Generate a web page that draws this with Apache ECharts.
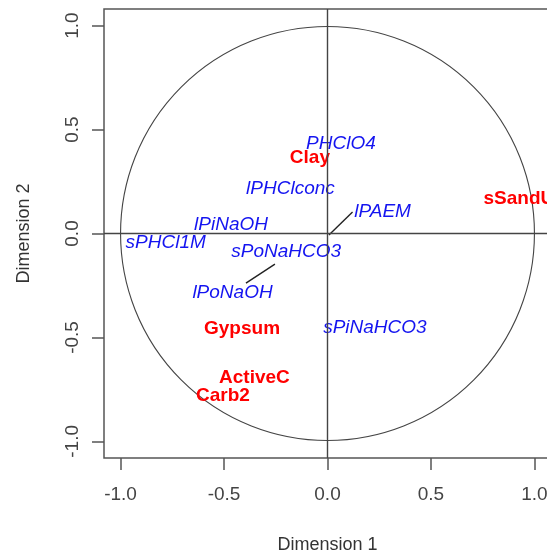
<!DOCTYPE html>
<html>
<head>
<meta charset="utf-8">
<script src="https://cdn.jsdelivr.net/npm/echarts@6/dist/echarts.min.js"></script>
<style>
  html, body { margin: 0; padding: 0; background: #fff; }
  #main { width: 547px; height: 552px; }
</style>
</head>
<body>
<div id="main"></div>
<script>
// 刻度
var tickValues = [-1, -0.5, 0, 0.5, 1];

// 蓝色变量（斜体）
var blueNames = ['PHClO4', 'lPHClconc', 'lPAEM', 'lPiNaOH', 'sPHCl1M', 'sPoNaHCO3', 'lPoNaOH', 'sPiNaHCO3'];
var blueX = [0.065, -0.179, 0.266, -0.466, -0.782, -0.200, -0.459, 0.229];
var blueY = [0.432, 0.215, 0.104, 0.041, -0.046, -0.089, -0.285, -0.452];

// 红色变量（粗体）
var redNames = ['Clay', 'sSandU', 'Gypsum', 'ActiveC', 'Carb2'];
var redX = [-0.085, 0.925, -0.413, -0.353, -0.505];
var redY = [0.365, 0.168, -0.457, -0.693, -0.780];

// 引线
var leaderFrom = [[0.007, -0.007], [-0.254, -0.147]];
var leaderTo = [[0.121, 0.104], [-0.394, -0.239]];

var myChart = echarts.init(document.getElementById('main'));

function makeData(xs, ys, names) {
    var out = [];
    for (var i = 0; i < names.length; i++) {
        out.push({ value: [xs[i], ys[i]], name: names[i] });
    }
    return out;
}

var leaders = [];
for (var k = 0; k < leaderFrom.length; k++) {
    leaders.push({ coords: [leaderFrom[k], leaderTo[k]] });
}

var axisColor = '#555';
var fontFamily = '"Liberation Sans", Arial, sans-serif';

var option = {
    animation: false,
    backgroundColor: '#fff',
    grid: {
        left: 104,
        top: 9,
        width: 447,
        height: 449,
        outerBoundsMode: 'none',
        containLabel: false,
        show: true,
        borderColor: axisColor,
        borderWidth: 1.5,
        backgroundColor: 'transparent'
    },
    xAxis: {
        type: 'value',
        min: -1.08,
        max: 1.08,
        name: 'Dimension 1',
        nameLocation: 'middle',
        nameGap: 78,
        nameTextStyle: { fontSize: 18, color: '#333', fontFamily: fontFamily },
        axisLine: { show: false, onZero: false },
        splitLine: { show: false },
        axisTick: {
            show: true, length: 12, inside: false,
            customValues: tickValues,
            lineStyle: { color: axisColor, width: 1.5 }
        },
        axisLabel: {
            customValues: tickValues,
            margin: 27,
            fontSize: 19,
            color: '#444',
            fontFamily: fontFamily,
            formatter: function (v) { return v.toFixed(1); }
        }
    },
    yAxis: {
        type: 'value',
        min: -1.08,
        max: 1.08,
        name: 'Dimension 2',
        nameLocation: 'middle',
        nameGap: 71,
        nameTextStyle: { fontSize: 18, color: '#333', fontFamily: fontFamily },
        axisLine: { show: false, onZero: false },
        splitLine: { show: false },
        axisTick: {
            show: true, length: 12, inside: false,
            customValues: tickValues,
            lineStyle: { color: axisColor, width: 1.5 }
        },
        axisLabel: {
            customValues: tickValues,
            rotate: 90,
            margin: 22,
            fontSize: 19,
            color: '#444',
            fontFamily: fontFamily,
            formatter: function (v) { return v.toFixed(1); }
        }
    },
    series: [
        {
            // 单位圆
            type: 'custom',
            silent: true,
            data: [[0, 0, 1]],
            renderItem: function (params, api) {
                var c = api.coord([api.value(0), api.value(1)]);
                var r = api.size([api.value(2), 0])[0];
                return {
                    type: 'circle',
                    shape: { cx: c[0], cy: c[1], r: r },
                    style: { fill: null, stroke: '#444', lineWidth: 1.1 }
                };
            },
            markLine: {
                silent: true,
                symbol: ['none', 'none'],
                label: { show: false },
                lineStyle: { color: '#444', width: 1.4, type: 'solid' },
                data: [{ xAxis: 0 }, { yAxis: 0 }]
            },
            z: 1
        },
        {
            type: 'lines',
            coordinateSystem: 'cartesian2d',
            silent: true,
            lineStyle: { color: '#222', width: 1.4, opacity: 1 },
            data: leaders,
            z: 2
        },
        {
            type: 'scatter',
            symbolSize: 1,
            itemStyle: { color: 'rgba(0,0,0,0)' },
            silent: true,
            data: makeData(blueX, blueY, blueNames),
            label: {
                show: true,
                position: 'inside',
                formatter: '{b}',
                color: '#1414f0',
                opacity: 1,
                textBorderWidth: 0,
                fontSize: 19,
                fontStyle: 'italic',
                fontFamily: fontFamily
            },
            labelLayout: { hideOverlap: false },
            z: 3
        },
        {
            type: 'scatter',
            symbolSize: 1,
            itemStyle: { color: 'rgba(0,0,0,0)' },
            silent: true,
            data: makeData(redX, redY, redNames),
            label: {
                show: true,
                position: 'inside',
                formatter: '{b}',
                color: '#ff0000',
                opacity: 1,
                textBorderWidth: 0,
                fontSize: 19,
                fontWeight: 'bold',
                fontFamily: fontFamily
            },
            labelLayout: { hideOverlap: false },
            z: 3
        }
    ]
};

myChart.setOption(option);
</script>
</body>
</html>
